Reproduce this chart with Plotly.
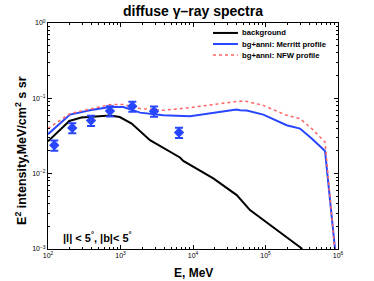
import plotly.graph_objects as go

# Data
bg_E = [100, 197, 288, 716, 977, 1426, 2553, 6607, 7345, 19055, 40087, 61094, 315500, 320000]
bg_v = [0.0269, 0.0501, 0.0555, 0.059, 0.0565, 0.0462, 0.0278, 0.0164, 0.0148, 0.00864, 0.00519, 0.00329, 0.00102, 0.001]

mer_E = [100, 201, 379, 716, 1096, 1858, 3890, 9099, 39811, 44463, 55081, 93325, 195884, 299226, 433510, 662217, 910000]
mer_v = [0.0334, 0.0608, 0.0693, 0.0767, 0.0767, 0.0646, 0.0595, 0.0578, 0.0709, 0.0693, 0.0688, 0.0608, 0.0439, 0.0397, 0.0292, 0.020, 0.001]

nfw_E = [100, 201, 716, 1096, 1858, 3890, 9099, 39811, 44463, 55081, 93325, 195884, 299226, 433510, 662217, 900000]
nfw_v = [0.0398, 0.0627, 0.0825, 0.083, 0.0731, 0.0693, 0.0753, 0.092, 0.092, 0.091, 0.0807, 0.0595, 0.0538, 0.0397, 0.0263, 0.001]

obs_E = [122, 216, 392, 716, 1456, 2900, 6410]
obs_v = [0.0238, 0.0405, 0.0507, 0.068, 0.0784, 0.0673, 0.0352]
obs_err = [0.0037, 0.0062, 0.0078, 0.0105, 0.012, 0.0104, 0.0054]

x_ticks = [100, 1000, 10000, 100000, 1000000]
x_labels = ["10<sup>2</sup>", "10<sup>3</sup>", "10<sup>4</sup>", "10<sup>5</sup>", "10<sup>6</sup>"]
y_ticks = [0.001, 0.01, 0.1, 1]
y_labels = ["10<sup>−3</sup>", "10<sup>−2</sup>", "10<sup>−1</sup>", "10<sup>0</sup>"]

legend_names = ["background", "bg+anni: Merritt profile", "bg+anni: NFW profile"]

FONT = "Liberation Sans, Arial, sans-serif"
BLACK = "black"
BLUE = "rgb(40,70,255)"
RED = "rgb(255,100,100)"
styles = [dict(color=BLACK, width=2), dict(color=BLUE, width=2), dict(color=RED, width=1.5, dash="dot")]

fig = go.Figure()
fig.add_trace(go.Scatter(x=bg_E, y=bg_v, mode="lines", name=legend_names[0], line=styles[0]))
fig.add_trace(go.Scatter(x=mer_E, y=mer_v, mode="lines", name=legend_names[1], line=styles[1]))
fig.add_trace(go.Scatter(x=nfw_E, y=nfw_v, mode="lines", name=legend_names[2], line=styles[2]))
fig.add_trace(go.Scatter(x=obs_E, y=obs_v, mode="markers",
                         marker=dict(symbol="diamond", size=8, color=BLUE),
                         error_y=dict(type="data", array=obs_err, color=BLUE,
                                      thickness=2, width=4)))

# compact legend drawn manually (Matlab-style spacing)
leg_y = [0.956, 0.907, 0.858]
for name, st, yy in zip(legend_names, styles, leg_y):
    fig.add_shape(type="line", xref="paper", yref="paper", x0=0.569, x1=0.655, y0=yy, y1=yy,
                  line=st)
    fig.add_annotation(x=0.662, y=yy, xref="paper", yref="paper", xanchor="left", yanchor="middle",
                       text="<b>" + name + "</b>", showarrow=False,
                       font=dict(family=FONT, size=7.7, color="black"))

axis_common = dict(showline=True, linecolor="black", linewidth=1, mirror="allticks",
                   ticks="inside", ticklen=4, tickcolor="black", showgrid=False, zeroline=False,
                   tickfont=dict(family=FONT, size=7, color="black"))

fig.update_xaxes(type="log", range=[2, 6], tickvals=x_ticks, ticktext=x_labels,
                 minor=dict(ticks="inside", ticklen=2, tickcolor="black", dtick="D1"),
                 **axis_common)
fig.update_yaxes(type="log", range=[-3, 0], tickvals=y_ticks, ticktext=y_labels,
                 minor=dict(ticks="inside", ticklen=2, tickcolor="black", dtick="D1"),
                 **axis_common)

# axis titles
fig.add_annotation(x=0.5, y=-0.104, xref="paper", yref="paper", xanchor="center", yanchor="middle",
                   text="<b>E, MeV</b>", showarrow=False,
                   font=dict(family=FONT, size=12, color="black"))
fig.add_annotation(x=-0.093, y=0.434, xref="paper", yref="paper", xanchor="center", yanchor="middle",
                   textangle=-90, text="<b>E<sup>2</sup> intensity,MeV/cm<sup>2</sup> s sr</b>",
                   showarrow=False, font=dict(family=FONT, size=12.5, color="black"))

fig.add_annotation(x=0.045, y=0.015, xref="paper", yref="paper", xanchor="left", yanchor="bottom",
                   text="<b>|l| < 5<sup>°</sup>, |b|< 5<sup>°</sup></b>", showarrow=False,
                   font=dict(family=FONT, size=11, color="black"))

fig.update_layout(
    width=374, height=281,
    margin=dict(l=48, r=36, t=23, b=32),
    paper_bgcolor="white", plot_bgcolor="white",
    title=dict(text="<b>diffuse γ–ray spectra</b>", x=0.516, xanchor="center", y=0.962, yanchor="middle",
               font=dict(family=FONT, size=14, color="black")),
    showlegend=False,
)

fig.write_html("out.html", config={"displayModeBar": False},
               post_script="document.body.style.margin='0';document.body.style.padding='0';")
